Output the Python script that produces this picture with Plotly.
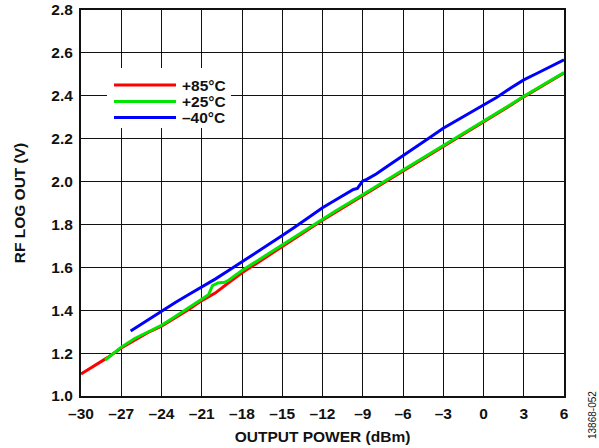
import plotly.graph_objects as go

# ---- data ----
x_85 = [-30, -29, -28, -27, -26, -25, -24, -23, -22, -21, -20, -19, -18, -17, -16, -15,
        -14, -13, -12, -11, -10, -9, -8, -7, -6, -5, -4, -3, -2, -1, 0, 1, 2, 3, 4, 5, 6]
y_85 = [1.103, 1.140, 1.180, 1.224, 1.262, 1.296, 1.326, 1.364, 1.402, 1.445, 1.480, 1.528,
        1.575, 1.615, 1.655, 1.696, 1.738, 1.779, 1.820, 1.858, 1.897, 1.935, 1.973, 2.012,
        2.050, 2.089, 2.125, 2.162, 2.200, 2.239, 2.280, 2.317, 2.355, 2.395, 2.433, 2.470, 2.506]

x_25 = [-28.2, -27, -26, -25, -24, -23, -22, -21.5, -21, -20.5, -20.2, -19.8, -19.3, -19,
        -18, -17, -16, -15, -14, -13, -12, -11, -10, -9, -8, -7, -6, -5, -4, -3, -2, -1,
        0, 1, 2, 3, 4, 5, 6]
y_25 = [1.168, 1.228, 1.268, 1.300, 1.330, 1.370, 1.410, 1.428, 1.452, 1.472, 1.515, 1.527,
        1.530, 1.540, 1.585, 1.625, 1.665, 1.707, 1.747, 1.787, 1.827, 1.864, 1.901, 1.938,
        1.976, 2.015, 2.054, 2.092, 2.128, 2.165, 2.203, 2.242, 2.283, 2.320, 2.358, 2.398,
        2.435, 2.472, 2.508]

x_m40 = [-26.3, -25, -24, -23, -22, -21, -20, -19, -18, -17, -16, -15, -14, -13, -12, -11,
         -10, -9.7, -9.4, -9.2, -9.0, -8.7, -8, -7, -6, -5, -4, -3, -2, -1, 0, 1, 2, 3, 4, 5, 6]
y_m40 = [1.303, 1.355, 1.398, 1.435, 1.472, 1.508, 1.545, 1.585, 1.625, 1.665, 1.705, 1.748,
         1.790, 1.835, 1.878, 1.915, 1.950, 1.963, 1.968, 1.985, 2.003, 2.010, 2.035, 2.078,
         2.120, 2.160, 2.205, 2.249, 2.285, 2.322, 2.358, 2.393, 2.435, 2.474, 2.505, 2.537, 2.568]

series_names = ["+85°C", "+25°C", "–40°C"]
series_colors = ["#ff0000", "#00e600", "#0000ff"]

x_tickvals = [-30, -27, -24, -21, -18, -15, -12, -9, -6, -3, 0, 3, 6]
x_ticktext = ["–30", "–27", "–24", "–21", "–18", "–15", "–12", "–9", "–6", "–3", "0", "3", "6"]
y_tickvals = [1.0, 1.2, 1.4, 1.6, 1.8, 2.0, 2.2, 2.4, 2.6, 2.8]
y_ticktext = ["1.0", "1.2", "1.4", "1.6", "1.8", "2.0", "2.2", "2.4", "2.6", "2.8"]

FONT = "Liberation Sans, Arial, sans-serif"
FS = 15.5
INK = "#111111"

# plot area in pixels (used only to place the hand-drawn legend box)
L, R, T, B = 81, 564, 10, 396
def px(xp):
    return (xp - L) / (R - L)
def py(yp):
    return (B - yp) / (B - T)

fig = go.Figure()
for xs, ys, name, col in zip([x_85, x_25, x_m40], [y_85, y_25, y_m40], series_names, series_colors):
    fig.add_trace(go.Scatter(x=xs, y=ys, mode="lines", name=name, showlegend=False,
                             line=dict(color=col, width=3)))

axis_common = dict(
    showgrid=True, gridcolor=INK, gridwidth=1,
    showline=True, linecolor=INK, linewidth=2, mirror=True,
    zeroline=False, ticks="", automargin=False,
    tickfont=dict(family=FONT, size=FS, color=INK, weight="bold"),
)

fig.update_xaxes(range=[-30, 6], tickmode="array", tickvals=x_tickvals, ticktext=x_ticktext,
                 ticklabelstandoff=2,
                 title=dict(text="OUTPUT POWER (dBm)", standoff=11,
                            font=dict(family=FONT, size=FS, color=INK, weight="bold")),
                 **axis_common)
fig.update_yaxes(range=[1.0, 2.8], tickmode="array", tickvals=y_tickvals, ticktext=y_ticktext,
                 ticklabelstandoff=3,
                 title=dict(text="RF LOG OUT (V)", standoff=22,
                            font=dict(family=FONT, size=FS, color=INK, weight="bold")),
                 **axis_common)

fig.update_layout(
    width=599, height=448,
    margin=dict(l=L, r=599 - R, t=T, b=448 - B, autoexpand=False),
    paper_bgcolor="white", plot_bgcolor="white",
    font=dict(family=FONT, size=FS, color=INK),
    showlegend=False,
)

# legend (drawn by hand to match the reference's compact box)
fig.add_shape(type="rect", xref="paper", yref="paper",
              x0=px(107), x1=px(231), y0=py(128), y1=py(68),
              fillcolor="white", line=dict(width=0), layer="above")
legend_rows = [85, 101.5, 117.5]
for name, col, yrow in zip(series_names, series_colors, legend_rows):
    fig.add_shape(type="line", xref="paper", yref="paper",
                  x0=px(114), x1=px(176), y0=py(yrow), y1=py(yrow),
                  line=dict(color=col, width=3), layer="above")
    fig.add_annotation(text=name, xref="paper", yref="paper", x=px(180), y=py(yrow),
                       xanchor="left", yanchor="middle", showarrow=False,
                       font=dict(family=FONT, size=FS, color=INK, weight="bold"))

fig.add_annotation(text="13868-052", xref="paper", yref="paper", x=px(592), y=py(415),
                   xanchor="center", yanchor="middle", textangle=-90, showarrow=False,
                   font=dict(family=FONT, size=10, color=INK))

fig.write_html("out.html", config={"displayModeBar": False},
               post_script="document.body.style.margin='0';document.body.style.padding='0';")
